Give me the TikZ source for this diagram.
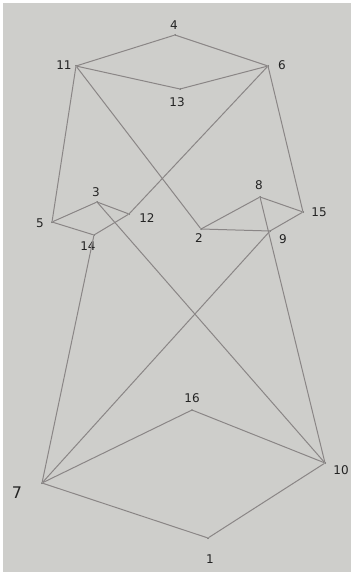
\documentclass[tikz,border=0pt]{standalone}
\usepackage{fontspec}
\setmainfont{DejaVu Sans}
\definecolor{paper}{RGB}{206,206,203}
\definecolor{pencil}{RGB}{138,134,134}
\definecolor{ink}{RGB}{35,35,35}
\tikzset{
  edge/.style={draw=pencil, line width=1pt},
  lbl/.style={text=ink, font=\fontsize{12}{13}\selectfont, inner sep=0pt},
  biglbl/.style={text=ink, font=\fontsize{16}{17}\selectfont, inner sep=0pt},
  vdot/.style={circle, fill=pencil!80!black, inner sep=0pt, minimum size=2pt}
}
\begin{document}
\begin{tikzpicture}[x=1pt,y=-1pt]
\useasboundingbox (0,0) rectangle (351,572);
\fill[white] (0,0) rectangle (351,572);
\fill[paper] (3,3) rectangle (351,572);
% vertices
\node[vdot] (v4) at (175,35) {};
\node[vdot] (v11) at (76,66) {};
\node[vdot] (v6) at (268,66) {};
\node[vdot] (v13) at (180,89) {};
\node[vdot] (v3) at (97,202) {};
\node[vdot] (v5) at (52,222) {};
\node[vdot] (v12) at (129,214) {};
\node[vdot] (v14) at (94,235) {};
\node[vdot] (v2) at (201,229) {};
\node[vdot] (v8) at (260,197) {};
\node[vdot] (v9) at (270,231) {};
\node[vdot] (v15) at (303,212) {};
\node[vdot] (v7) at (42,483) {};
\node[vdot] (v16) at (192,410) {};
\node[vdot] (v10) at (325,463) {};
\node[vdot] (v1) at (208,538) {};
% labels
\node[lbl] (l4) at (174,25) {4};
\node[lbl] (l11) at (64,65) {11};
\node[lbl] (l6) at (282,65) {6};
\node[lbl] (l13) at (177,102) {13};
\node[lbl] (l3) at (96,192) {3};
\node[lbl] (l5) at (40,223) {5};
\node[lbl] (l12) at (147,218) {12};
\node[lbl] (l14) at (88,246) {14};
\node[lbl] (l2) at (199,238) {2};
\node[lbl] (l8) at (259,185) {8};
\node[lbl] (l9) at (283,239) {9};
\node[lbl] (l15) at (319,212) {15};
\node[biglbl] (l7) at (17,493) {7};
\node[lbl] (l16) at (192,398) {16};
\node[lbl] (l10) at (341,470) {10};
\node[lbl] (l1) at (210,559) {1};
% edges
\draw[edge] (v4) -- (v11);
\draw[edge] (v4) -- (v6);
\draw[edge] (v11) -- (v13);
\draw[edge] (v13) -- (v6);
\draw[edge] (v11) -- (v5);
\draw[edge] (v11) -- (v2);
\draw[edge] (v6) -- (v12);
\draw[edge] (v6) -- (v15);
\draw[edge] (v5) -- (v3);
\draw[edge] (v3) -- (v12);
\draw[edge] (v5) -- (v14);
\draw[edge] (v14) -- (v12);
\draw[edge] (v3) -- (v10);
\draw[edge] (v14) -- (v7);
\draw[edge] (v2) -- (v8);
\draw[edge] (v2) -- (v9);
\draw[edge] (v8) -- (v15);
\draw[edge] (v9) -- (v15);
\draw[edge] (v8) -- (v10);
\draw[edge] (v9) -- (v7);
\draw[edge] (v7) -- (v16);
\draw[edge] (v16) -- (v10);
\draw[edge] (v7) -- (v1);
\draw[edge] (v1) -- (v10);
\end{tikzpicture}
\end{document}
